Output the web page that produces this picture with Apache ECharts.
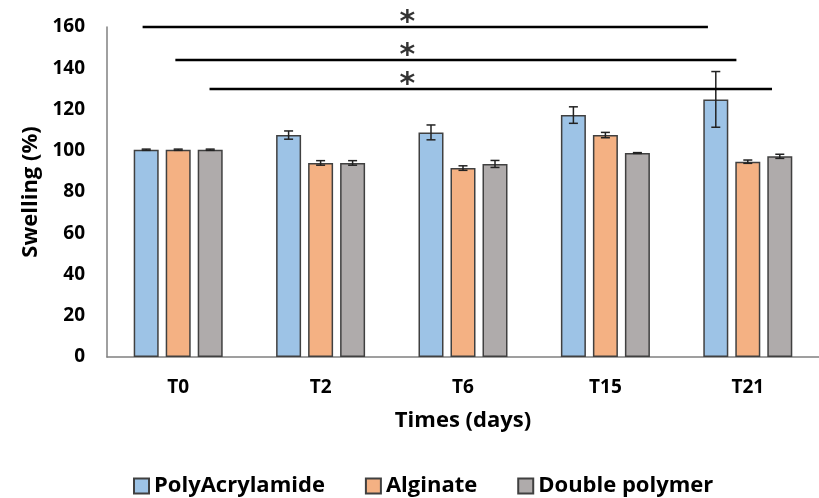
<!DOCTYPE html>
<html>
<head>
<meta charset="utf-8">
<script src="https://cdn.jsdelivr.net/npm/echarts@6/dist/echarts.min.js"></script>
<style>
  html, body { margin: 0; padding: 0; background: #fff; }
  .main { width: 819px; height: 498px; }
</style>
</head>
<body>
<div class="main" id="main"></div>
<script>
var categories = ['T0', 'T2', 'T6', 'T15', 'T21'];
var polyAcrylamide = [100.5, 107.6, 108.9, 117.3, 124.9];
var polyErr = [0.3, 2.0, 3.6, 4.0, 13.5];
var alginate = [100.5, 94.1, 91.6, 107.6, 94.7];
var alginateErr = [0.3, 1.1, 1.1, 1.3, 0.8];
var doublePolymer = [100.5, 94.1, 93.6, 98.9, 97.3];
var doubleErr = [0.3, 1.1, 1.7, 0.2, 1.0];
// significance brackets: [start, end] on category scale (0..5), and level
var sigStart = [0.25, 0.48, 0.72];
var sigEnd = [4.22, 4.42, 4.67];
var sigLevel = [160, 144, 130];
var starX = 2.11;

var font = '"Open Sans", "Noto Sans", sans-serif';
var colors = ['#9dc3e6', '#f4b183', '#afabab'];

var myChart = echarts.init(document.getElementById('main'));

function errRows(vals, errs, k) {
    return vals.map(function(v, i) { return [i, v, errs[i], k]; });
}

function errorBars(params, api) {
    var i = api.value(0), v = api.value(1), e = api.value(2), k = api.value(3);
    var dx = (k - 1) * 32;
    var hi = api.coord([i, v + e]);
    var lo = api.coord([i, v - e]);
    var x = hi[0] + dx;
    var st = { stroke: '#222', lineWidth: 1.5 };
    return {
        type: 'group',
        children: [
            { type: 'line', shape: { x1: x, y1: hi[1], x2: x, y2: lo[1] }, style: st },
            { type: 'line', shape: { x1: x - 4.5, y1: hi[1], x2: x + 4.5, y2: hi[1] }, style: st },
            { type: 'line', shape: { x1: x - 4.5, y1: lo[1], x2: x + 4.5, y2: lo[1] }, style: st }
        ]
    };
}

var series = [];
var names = ['PolyAcrylamide', 'Alginate', 'Double polymer'];
var vals = [polyAcrylamide, alginate, doublePolymer];
var errs = [polyErr, alginateErr, doubleErr];
for (var k = 0; k < 3; k++) {
    series.push({
        name: names[k],
        type: 'bar',
        barWidth: 25,
        barGap: '28%',
        data: vals[k],
        itemStyle: { color: colors[k], borderColor: '#404040', borderWidth: 1.5 }
    });
}
for (var k2 = 0; k2 < 3; k2++) {
    series.push({
        type: 'custom',
        renderItem: errorBars,
        data: errRows(vals[k2], errs[k2], k2),
        encode: { x: 0, y: 1 },
        z: 5,
        silent: true
    });
}
for (var s = 0; s < sigLevel.length; s++) {
    series.push({
        type: 'line',
        xAxisIndex: 1,
        data: [[sigStart[s], sigLevel[s]], [sigEnd[s], sigLevel[s]]],
        symbol: 'none',
        clip: false,
        lineStyle: { color: '#000', width: 2.5 },
        silent: true,
        z: 6
    });
}
series.push({
    type: 'scatter',
    xAxisIndex: 1,
    data: sigLevel.map(function(l) { return [starX, l]; }),
    symbolSize: 0,
    clip: false,
    silent: true,
    label: {
        show: true,
        position: 'top',
        distance: -11,
        formatter: '*',
        color: '#000',
        fontSize: 30,
        fontWeight: 'bold',
        fontFamily: '"DejaVu Sans", sans-serif'
    }
});

var option = {
    animation: false,
    grid: { left: 107, top: 27, right: -12, bottom: 141 },
    legend: {
        data: names,
        left: 128,
        top: 470,
        itemWidth: 15,
        itemHeight: 15,
        itemGap: 40,
        icon: 'rect',
        textStyle: { fontSize: 22, fontWeight: 'bold', fontFamily: font, color: '#000' }
    },
    xAxis: [{
        type: 'category',
        data: categories,
        axisLine: { lineStyle: { color: '#808080', width: 1.5 } },
        axisTick: { show: false },
        axisLabel: { fontSize: 19, fontWeight: 'bold', fontFamily: font, color: '#000', margin: 21 },
        name: 'Times (days)',
        nameLocation: 'middle',
        nameGap: 53,
        nameTextStyle: { fontSize: 22, fontWeight: 'bold', fontFamily: font, color: '#000' }
    }, {
        type: 'value',
        min: 0,
        max: 5,
        show: false
    }],
    yAxis: {
        type: 'value',
        min: 0,
        max: 160,
        interval: 20,
        splitLine: { show: false },
        axisLine: { show: true, lineStyle: { color: '#808080', width: 1.5 } },
        axisTick: { show: false },
        axisLabel: { fontSize: 19, fontWeight: 'bold', fontFamily: font, color: '#000', margin: 22 },
        name: 'Swelling (%)',
        nameLocation: 'middle',
        nameGap: 64,
        nameTextStyle: { fontSize: 22, fontWeight: 'bold', fontFamily: font, color: '#000' }
    },
    series: series
};

myChart.setOption(option);
</script>
</body>
</html>
